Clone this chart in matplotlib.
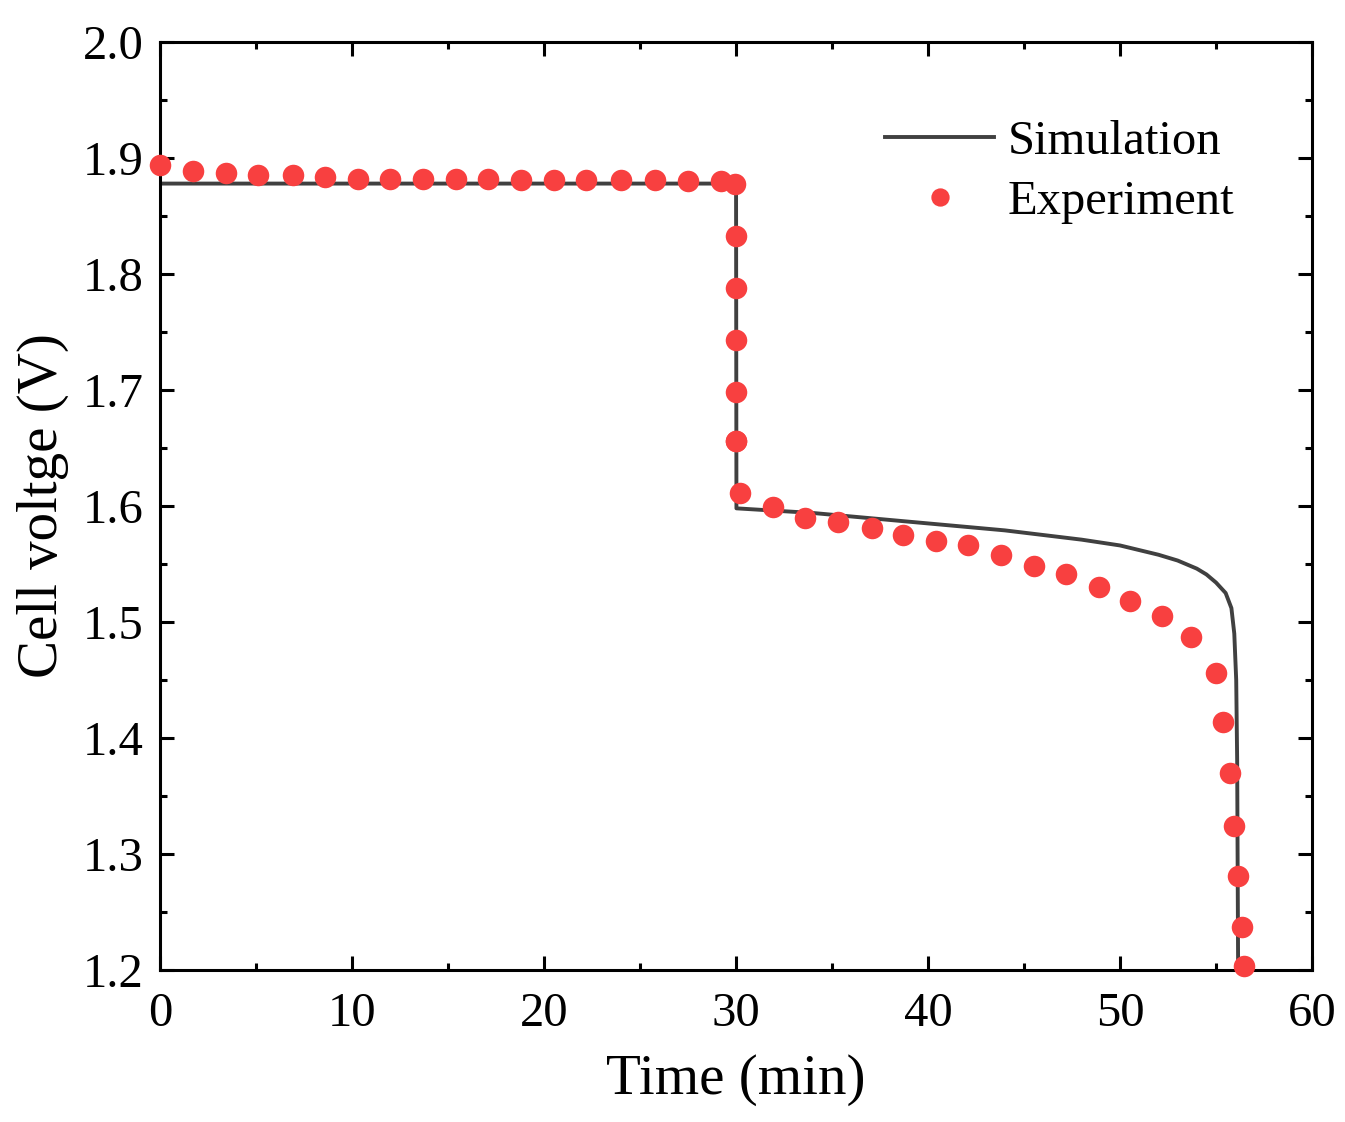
import matplotlib
matplotlib.use('Agg')
import matplotlib.pyplot as plt
import matplotlib.ticker as ticker

plt.rcParams['font.family'] = ['Liberation Serif', 'DejaVu Serif']

# simulation curve (min, V)
sim_time = [0, 10, 20, 29.9, 30.0, 30.02, 32, 34, 36, 38, 40, 42, 44, 46, 48, 50,
            51, 52, 53, 54, 54.5, 55, 55.5, 55.8, 55.95, 56.05, 56.1, 56.15]
sim_volt = [1.878, 1.878, 1.878, 1.878, 1.878, 1.598, 1.596, 1.594, 1.591, 1.588,
            1.585, 1.582, 1.579, 1.575, 1.571, 1.566, 1.562, 1.558, 1.553, 1.546,
            1.541, 1.534, 1.525, 1.512, 1.49, 1.45, 1.38, 1.2]

# experimental points
exp_time = [0, 1.72, 3.44, 5.1, 6.9, 8.6, 10.3, 12.0, 13.7, 15.4, 17.1, 18.8, 20.5,
            22.2, 24.0, 25.8, 27.5, 29.2, 29.95,
            30.0, 30.0, 30.0, 30.0, 30.0, 30.02,
            30.22, 31.9, 33.6, 35.3, 37.1, 38.7, 40.4, 42.1, 43.8, 45.5, 47.2, 48.9,
            50.5, 52.2, 53.7, 55.0, 55.35, 55.73, 55.94, 56.15, 56.33, 56.44]
exp_volt = [1.894, 1.889, 1.887, 1.885, 1.885, 1.884, 1.882, 1.882, 1.882, 1.882,
            1.882, 1.881, 1.881, 1.881, 1.881, 1.881, 1.880, 1.880, 1.878,
            1.833, 1.788, 1.743, 1.698, 1.656, 1.656,
            1.611, 1.599, 1.590, 1.586, 1.581, 1.575, 1.570, 1.566, 1.558, 1.548,
            1.541, 1.530, 1.518, 1.505, 1.487, 1.456, 1.414, 1.370, 1.324, 1.281,
            1.237, 1.203]

fig = plt.figure(figsize=(13.45, 11.22), dpi=100)
ax = fig.add_axes([0.119, 0.1355, 0.8565, 0.827])

ax.plot(sim_time, sim_volt, color='#404040', lw=2.8, label='Simulation', zorder=2)
ax.plot(exp_time, exp_volt, 'o', color='#f84040', ms=15.5, mew=0,
        label='Experiment', zorder=3, clip_on=False)

ax.set_xlim(0, 60)
ax.set_ylim(1.2, 2.0)
ax.xaxis.set_major_locator(ticker.MultipleLocator(10))
ax.xaxis.set_minor_locator(ticker.MultipleLocator(5))
ax.yaxis.set_major_locator(ticker.MultipleLocator(0.1))
ax.yaxis.set_minor_locator(ticker.MultipleLocator(0.05))
ax.yaxis.set_major_formatter(ticker.FormatStrFormatter('%.1f'))

ax.tick_params(which='both', direction='in', top=True, right=True, width=2.2,
               labelsize=35)
ax.tick_params(axis='x', pad=16)
ax.tick_params(axis='y', pad=12)
ax.tick_params(which='major', length=10)
ax.tick_params(which='minor', length=5)
for s in ax.spines.values():
    s.set_linewidth(2.2)

ax.set_xlabel('Time (min)', fontsize=41, labelpad=13)
ax.set_ylabel('Cell voltge (V)', fontsize=41, labelpad=10)

leg = ax.legend(loc='upper left', bbox_to_anchor=(0.591, 0.9635), frameon=False,
                fontsize=35, handlelength=2.26, handletextpad=0.27, labelspacing=0.33,
                markerscale=0.85)

plt.savefig('out.png', dpi=100)
